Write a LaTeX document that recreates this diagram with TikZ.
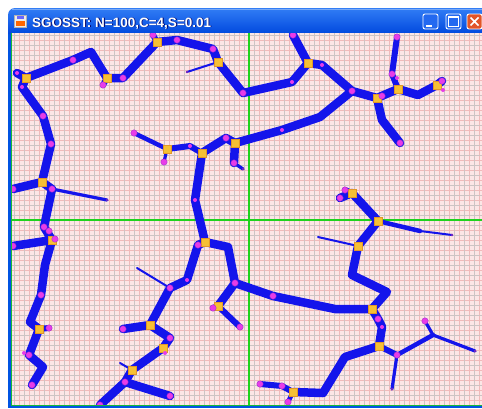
\documentclass[tikz,border=0pt]{standalone}
\usepackage{fontspec}
\setmainfont{Liberation Sans}
\definecolor{edgeblue}{RGB}{20,20,235}
\definecolor{termmag}{RGB}{232,60,232}
\definecolor{termdark}{RGB}{150,40,200}
\definecolor{steinyel}{RGB}{246,192,52}
\definecolor{steinedge}{RGB}{225,150,40}
\definecolor{gridbg}{RGB}{252,230,230}
\definecolor{gridpink}{RGB}{240,186,186}
\definecolor{gridgray}{RGB}{205,196,196}
\definecolor{axisgreen}{RGB}{30,210,30}
\definecolor{xpblue}{RGB}{0,84,227}
\definecolor{xptop}{RGB}{50,125,245}
\definecolor{xpbot}{RGB}{0,72,222}
\definecolor{xpbtn}{RGB}{35,105,240}
\definecolor{xpclose}{RGB}{226,84,40}
\definecolor{tipdark}{RGB}{120,40,190}
\begin{document}
\begin{tikzpicture}[x=1pt,y=-1pt,
  thk/.style={draw=edgeblue, line width=8.5pt, line cap=round, line join=round},
  mid/.style={draw=edgeblue, line width=6pt, line cap=round, line join=round},
  med/.style={draw=edgeblue, line width=4.5pt, line cap=round, line join=round},
  lite/.style={draw=edgeblue, line width=3.2pt, line cap=round, line join=round},
  thn/.style={draw=edgeblue, line width=2pt, line cap=round},
  term/.style={circle, fill=termmag, draw=termdark, line width=0.3pt, inner sep=0pt, minimum size=6.5pt},
  sterm/.style={circle, fill=termmag, inner sep=0pt, minimum size=4pt},
  tip/.style={circle, fill=tipdark, inner sep=0pt, minimum size=2.6pt},
  stein/.style={rectangle, fill=steinyel, draw=steinedge, line width=0.5pt, inner sep=0pt, minimum size=8pt},
]
\useasboundingbox (0,0) rectangle (482,408);
\clip (0,0) rectangle (482,408);
\fill[white] (0,0) rectangle (482,408);
% ---------- window frame ----------
\fill[xpblue] (8,24) rectangle (482,408);
\path[top color=xptop, bottom color=xpbot] (8,34) {[rounded corners=7pt] -- (8,8) -- (495,8)} -- (495,34) -- cycle;
\draw[white, opacity=0.35, line width=0.8pt] (12,9.5) -- (482,9.5);
% icon
\node[draw=gray!60, fill=gray!15, minimum size=12pt, inner sep=0pt] (icon) at (20.5,21) {};
\fill[orange!80!red] (16,21) rectangle (25,26);
\fill[blue!60] (17,16) rectangle (24,19);
% title
\node[anchor=base west, text=black!60!blue, inner sep=0pt, font=\fontsize{13.5}{15}\selectfont\bfseries] (titleshadow) at (32.8,27.8) {SGOSST: N=100,C=4,S=0.01};
\node[anchor=base west, text=white, inner sep=0pt, font=\fontsize{13.5}{15}\selectfont\bfseries] (title) at (32,27) {SGOSST: N=100,C=4,S=0.01};
% buttons
\node[draw=white, line width=0.9pt, fill=xpbtn, rounded corners=2pt, minimum width=15pt, minimum height=15pt, inner sep=0pt] (bmin) at (430.5,21.5) {};
\fill[white] (425.5,24.5) rectangle (431.5,26.5);
\node[draw=white, line width=0.9pt, fill=xpbtn, rounded corners=2pt, minimum width=15pt, minimum height=15pt, inner sep=0pt] (bmax) at (453.5,21.5) {};
\draw[white, line width=1pt] (448.5,16.5) rectangle (458.5,26.5);
\draw[white, line width=2pt] (448.5,17) -- (458.5,17);
\node[draw=white, line width=0.9pt, fill=xpclose, rounded corners=2pt, minimum width=15pt, minimum height=15pt, inner sep=0pt] (bclose) at (474.5,21.5) {};
\draw[white, line width=1.6pt] (470.5,17.5) -- (478.5,25.5) (478.5,17.5) -- (470.5,25.5);
% ---------- canvas ----------
\begin{scope}
\clip (12,33) rectangle (482,405.5);
\fill[gridbg] (12,33) rectangle (482,406);
\foreach \k in {-48,...,47} {\draw[gridpink, line width=0.6pt] ({249+5*\k},33) -- ({249+5*\k},406);}
\foreach \k in {-38,...,38} {\draw[gridpink, line width=0.6pt] (12,{220+5*\k}) -- (482,{220+5*\k});}
\foreach \k in {-24,...,24} {\draw[gridgray, line width=0.6pt] ({244+10*\k},33) -- ({244+10*\k},406);}
\foreach \k in {-19,...,19} {\draw[gridgray, line width=0.6pt] (12,{215+10*\k}) -- (482,{215+10*\k});}
\draw[axisgreen, line width=1.2pt] (249,33) -- (249,406);
\draw[axisgreen, line width=1.2pt] (12,220) -- (482,220);
% ---------- points ----------
\coordinate (p1) at (17,73);   \coordinate (p2) at (26,78);   \coordinate (p3) at (22,87);
\coordinate (p4) at (73,60);   \coordinate (p5) at (91,52);   \coordinate (p6) at (107,78);
\coordinate (p7) at (103,85);  \coordinate (p8) at (123,78);  \coordinate (p9) at (157,42);
\coordinate (p10) at (153,35); \coordinate (p11) at (177,40); \coordinate (p12) at (213,49);
\coordinate (p13) at (218,62); \coordinate (p14) at (187,72); \coordinate (p15) at (243,93);
\coordinate (p16) at (292,82); \coordinate (p17) at (308,63); \coordinate (p18) at (293,35);
\coordinate (p19) at (322,65); \coordinate (p20) at (352,91); \coordinate (p21) at (377,98);
\coordinate (p22) at (382,96); \coordinate (p23) at (398,89); \coordinate (p24) at (392,74);
\coordinate (p25) at (397,37); \coordinate (p26) at (418,95); \coordinate (p27) at (437,85);
\coordinate (p28) at (442,81); \coordinate (p29) at (382,120); \coordinate (p30) at (400,143);
\coordinate (p31) at (320,117); \coordinate (p32) at (282,130); \coordinate (p33) at (397,78);
\coordinate (p34) at (443,90);
\coordinate (q1) at (43,116);  \coordinate (q2) at (51,144);  \coordinate (q3) at (42,182);
\coordinate (q4) at (13,189);  \coordinate (q5) at (52,189);  \coordinate (q6) at (107,200);
\coordinate (q7) at (44,227);  \coordinate (q8) at (49,231);  \coordinate (q9) at (52,240);
\coordinate (q10) at (55,239); \coordinate (q11) at (13,246); \coordinate (q12) at (45,265);
\coordinate (q13) at (41,295); \coordinate (q14) at (30,322); \coordinate (q15) at (39,329);
\coordinate (q16) at (49,328); \coordinate (q17) at (29,355); \coordinate (q18) at (43,367);
\coordinate (q19) at (32,385); \coordinate (q20) at (24,353);
\coordinate (r1) at (235,143); \coordinate (r2) at (226,138); \coordinate (r3) at (202,153);
\coordinate (r4) at (190,146); \coordinate (r5) at (167,149); \coordinate (r6) at (134,133);
\coordinate (r7) at (164,162); \coordinate (r8) at (234,163); \coordinate (r9) at (243,169);
\coordinate (r10) at (195,200); \coordinate (r11) at (205,242); \coordinate (r12) at (198,245);
\coordinate (r13) at (228,247); \coordinate (r14) at (235,283); \coordinate (r15) at (218,306);
\coordinate (r16) at (213,308); \coordinate (r17) at (240,327); \coordinate (r18) at (273,296);
\coordinate (r19) at (335,309); \coordinate (r20) at (372,309); \coordinate (r21) at (187,280);
\coordinate (r22) at (170,288); \coordinate (r23) at (137,268); \coordinate (r24) at (150,325);
\coordinate (r25) at (123,329); \coordinate (r26) at (170,338); \coordinate (r27) at (163,348);
\coordinate (r28) at (132,370); \coordinate (r29) at (120,363); \coordinate (r30) at (125,382);
\coordinate (r31) at (100,405); \coordinate (r32) at (170,396); \coordinate (r33) at (165,353);
\coordinate (s1) at (387,292); \coordinate (s2) at (352,275); \coordinate (s3) at (358,246);
\coordinate (s4) at (318,237); \coordinate (s5) at (378,221); \coordinate (s6) at (352,193);
\coordinate (s7) at (340,198); \coordinate (s8) at (345,190); \coordinate (s9) at (420,231);
\coordinate (s10) at (452,235); \coordinate (s11) at (378,319); \coordinate (s12) at (382,327);
\coordinate (s13) at (379,346); \coordinate (s14) at (345,357); \coordinate (s15) at (323,393);
\coordinate (s16) at (293,392); \coordinate (s17) at (282,386); \coordinate (s18) at (260,384);
\coordinate (s19) at (288,402); \coordinate (s20) at (397,355); \coordinate (s21) at (392,389);
\coordinate (s22) at (433,335); \coordinate (s23) at (425,321); \coordinate (s24) at (475,351);
% ---------- edges ----------
\draw[thk] (p1) -- (p2) -- (p4) -- (p5) -- (p6) -- (p8) -- (p9) -- (p11) -- (p12) -- (p13) -- (p15) -- (p16) -- (p17) -- (p18);
\draw[mid] (p6) -- (p7);
\draw[mid] (p9) -- (p10);
\draw[thn] (p13) -- (p14);
\draw[thk] (p17) -- (p19) -- (p20) -- (p21) -- (p23) -- (p26) -- (p27) -- (p28);
\draw[mid] (p23) -- (p24) -- (p25);
\draw[thk] (p21) -- (p29) -- (p30);
\draw[thk] (p20) -- (p31) -- (p32) -- (r1);
\draw[thk] (p2) -- (p3) -- (q1) -- (q2) -- (q3) -- (q4);
\draw[thk] (q3) -- (q5) -- (q7) -- (q9) -- (q11);
\draw[lite] (q5) -- (q6);
\draw[thk] (q9) -- (q12) -- (q13) -- (q14) -- (q15) -- (q17) -- (q18) -- (q19);
\draw[mid] (q15) -- (q16);
\draw[thk] (r1) -- (r2) -- (r3);
\draw[mid] (r3) -- (r4) -- (r5);
\draw[med] (r5) -- (r6);
\draw[lite] (r5) -- (r7);
\draw[thk] (r1) -- (r8);
\draw[lite] (r8) -- (r9);
\draw[thk] (r3) -- (r10) -- (r11) -- (r13) -- (r14) -- (r15);
\draw[mid] (r15) -- (r17);
\draw[mid] (r15) -- (r16);
\draw[thk] (r14) -- (r18) -- (r19) -- (r20);
\draw[thk] (r11) -- (r12) -- (r21) -- (r22) -- (r24) -- (r25);
\draw[thn] (r23) -- (r22);
\draw[thk] (r24) -- (r26) -- (r27) -- (r28) -- (r30) -- (r31);
\draw[thk] (r30) -- (r32);
\draw[thn] (r29) -- (r28);
\draw[thk] (r20) -- (s1) -- (s2) -- (s3) -- (s5) -- (s6) -- (s7);
\draw[mid] (s6) -- (s8);
\draw[thn] (s4) -- (s3);
\draw[med] (s5) -- (s9);
\draw[thn] (s9) -- (s10);
\draw[thk] (r20) -- (s11) -- (s12) -- (s13) -- (s14) -- (s15) -- (s16);
\draw[mid] (s16) -- (s17) -- (s18);
\draw[med] (s16) -- (s19);
\draw[mid] (s13) -- (s20);
\draw[lite] (s20) -- (s21);
\draw[med] (s20) -- (s22);
\draw[lite] (s22) -- (s23);
\draw[lite] (s22) -- (s24);
% ---------- Steiner points ----------
\foreach \n in {p2,p6,p9,p13,p17,p21,p23,p27,q3,q9,q15,r1,r3,r5,r11,r15,r20,r24,r27,r28,s3,s5,s6,s13,s16}
  {\node[stein] (St-\n) at (\n) {};}
% ---------- terminals ----------
\foreach \n in {p4,p7,p8,p10,p11,p12,p15,p18,p20,p22,p24,p25,p28,p30,q1,q2,q4,q5,q7,q8,q10,q11,q13,q16,q17,q19,r2,r6,r7,r8,r12,r14,r16,r17,r18,r22,r25,r26,r30,r31,r32,s7,s8,s11,s17,s18,s19,s20,s23}
  {\node[term] (Tm-\n) at (\n) {};}
\foreach \n in {p1,p3,p16,p19,p32,p33,p34,q20,r4,r10,r21,r33,s12}
  {\node[sterm] (Ts-\n) at (\n) {};}
\foreach \n in {q6,r9,s10,s21,s24,p14}
  {\node[tip] (Tp-\n) at (\n) {};}
\end{scope}
% canvas border
\draw[axisgreen!70!teal, line width=1pt] (11.5,33) -- (11.5,405.5) -- (482,405.5);
\end{tikzpicture}
\end{document}
